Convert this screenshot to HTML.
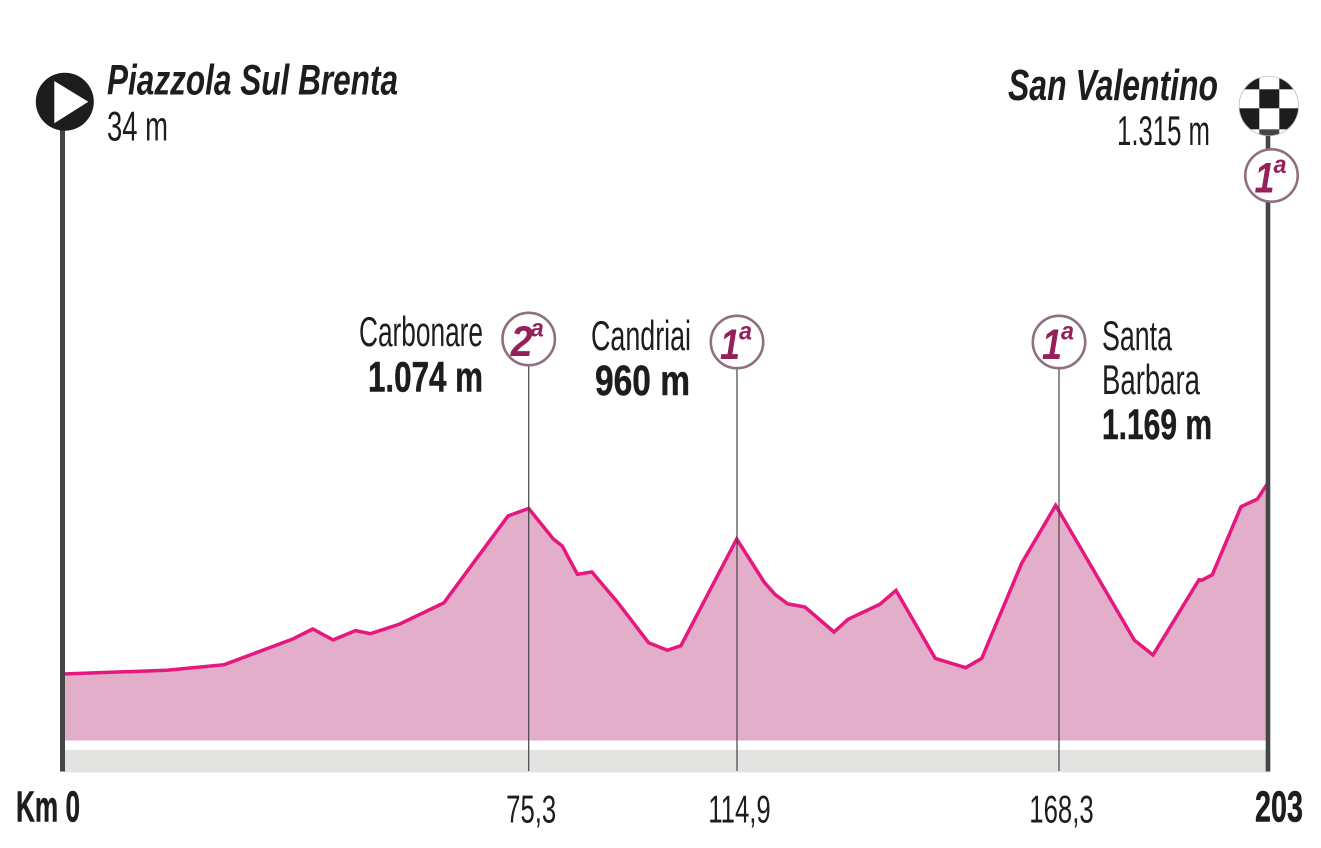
<!DOCTYPE html>
<html lang="it">
<head>
<meta charset="utf-8">
<title>Altimetria Piazzola Sul Brenta - San Valentino</title>
<style>
html,body{margin:0;padding:0;background:#fff;width:1321px;height:848px;overflow:hidden}
svg{display:block}
text{font-family:"Liberation Sans",Arial,sans-serif;fill:#1d1d1b}
.b{font-weight:700;stroke:#1d1d1b;stroke-width:.5}
.bi{font-weight:700;font-style:italic}
.m{fill:#96205a;font-weight:700;font-style:italic}
</style>
</head>
<body>
<svg id="chart" width="1321" height="848" viewBox="0 0 1321 848" xmlns="http://www.w3.org/2000/svg">
  <rect width="1321" height="848" fill="#fff"/>
  <g id="marks"></g>

  <rect x="60" y="120" width="5" height="651.5" fill="#434645"/>
  <rect x="1265.7" y="125" width="4.6" height="646.5" fill="#434645"/>

  <g>
    <circle cx="64.8" cy="101.7" r="29" fill="#1d1d1b"/>
    <path d="M54.3 81 L88.3 101.7 L54.3 123.3 Z" fill="#fff"/>
  </g>
  <g>
    <clipPath id="flagClip"><circle cx="1268.8" cy="106" r="30"/></clipPath>
    <g clip-path="url(#flagClip)">
      <rect x="1238" y="75" width="62" height="62" fill="#fff"/>
      <rect x="1238" y="75" width="21.3" height="14.3" fill="#1d1d1b"/>
      <rect x="1279.3" y="75" width="21" height="14.3" fill="#1d1d1b"/>
      <rect x="1259.3" y="89.3" width="20" height="19" fill="#1d1d1b"/>
      <rect x="1238" y="108.3" width="21.3" height="21" fill="#1d1d1b"/>
      <rect x="1279.3" y="108.3" width="21" height="21" fill="#1d1d1b"/>
      <rect x="1259.3" y="129.3" width="20" height="8" fill="#434645"/>
    </g>
    <circle cx="1268.8" cy="106" r="29.7" fill="none" stroke="#b5b5b3" stroke-width=".7"/>
  </g>

  <text class="bi" x="107" y="94.5" font-size="43" textLength="291" lengthAdjust="spacingAndGlyphs">Piazzola Sul Brenta</text>
  <text x="107" y="140.5" font-size="42" textLength="61" lengthAdjust="spacingAndGlyphs">34 m</text>
  <text class="bi" x="1008" y="100" font-size="44" textLength="210" lengthAdjust="spacingAndGlyphs">San Valentino</text>
  <text x="1117" y="145" font-size="42" textLength="93" lengthAdjust="spacingAndGlyphs">1.315 m</text>

  <text x="359" y="346" font-size="42" textLength="124" lengthAdjust="spacingAndGlyphs">Carbonare</text>
  <text class="b" x="368" y="391.5" font-size="43" textLength="115" lengthAdjust="spacingAndGlyphs">1.074 m</text>
  <text x="591" y="350" font-size="42" textLength="100" lengthAdjust="spacingAndGlyphs">Candriai</text>
  <text class="b" x="595" y="395" font-size="43" textLength="95" lengthAdjust="spacingAndGlyphs">960 m</text>
  <text x="1102" y="350" font-size="42" textLength="70" lengthAdjust="spacingAndGlyphs">Santa</text>
  <text x="1102" y="394" font-size="42" textLength="98" lengthAdjust="spacingAndGlyphs">Barbara</text>
  <text class="b" x="1102" y="439" font-size="43" textLength="110" lengthAdjust="spacingAndGlyphs">1.169 m</text>

  <text class="b" x="16" y="821.5" font-size="44" textLength="64" lengthAdjust="spacingAndGlyphs">Km 0</text>
  <text class="b" x="1255" y="821.5" font-size="44" textLength="48" lengthAdjust="spacingAndGlyphs">203</text>

  <g id="overlays"></g>
</svg>
<script>
// Distance along the stage (km) and altitude (m)
const profileKm = [0,16.79,26.07,37.04,40.37,43.67,47.29,49.72,54.46,61.59,71.95,75.3,79.98,81.69,82.75,84.58,87.29,92.11,98.09,101.64,104.23,114.84,119.43,121.2,123.31,126.18,130.99,133.31,138.62,141.27,147.79,152.83,155.48,162.11,167.75,180.8,183.91,191.54,191.99,193.75,198.52,201.22,203];
const profileAltitude = [34,59,97,269,339,265,328,307,373,517,1105,1157,949,902,829,710,726,524,246,195,226,949,656,574,509,488,319,405,507,601,140,77,140,785,1178,264,163,673,669,707,1168,1220,1330];
// Climbs
const climbKm = [75.3,114.9,168.3];
const climbLabels = ['75,3','114,9','168,3'];
const climbCategories = ['2','1','1'];
const climbNames = ['carbonare','candriai','santa-barbara'];
// Piecewise distance axis: the printed km marks are not evenly spaced on the drawing
const axisKm = [0,75.3,114.9,168.3,203];
const axisPx = [63,528.7,737,1059,1268];

function xScale(km){
  for(let i=1;i<axisKm.length;i++){
    if(km<=axisKm[i]){
      const t=(km-axisKm[i-1])/(axisKm[i]-axisKm[i-1]);
      return axisPx[i-1]+t*(axisPx[i]-axisPx[i-1]);
    }
  }
  return axisPx[axisPx.length-1];
}
function yScale(m){return 674-(m-34)*0.1475;}

const NS='http://www.w3.org/2000/svg';
const marks=document.getElementById('marks');
const overlays=document.getElementById('overlays');
function make(tag,parent,attrs){
  const el=document.createElementNS(NS,tag);
  for(const k in attrs){el.setAttribute(k,attrs[k]);}
  parent.appendChild(el);
  return el;
}

const baseY=740.5;
const linePts=profileKm.map((k,i)=>xScale(k).toFixed(1)+','+yScale(profileAltitude[i]).toFixed(1));
const areaPts=[xScale(0).toFixed(1)+','+baseY].concat(linePts,[xScale(203).toFixed(1)+','+baseY]);

const area=make('polygon',marks,{points:areaPts.join(' '),fill:'#e3aeca'});



const band=make('rect',marks,{x:xScale(0),y:750,width:xScale(203)-xScale(0)+2,height:22.5,fill:'#e3e3e2'});



const line=make('polyline',marks,{points:linePts.join(' '),fill:'none',stroke:'#e6177e','stroke-width':3.5,'stroke-linejoin':'miter'});



climbKm.forEach((km,i)=>{
  const x=xScale(km);
  const cy=i===0?339:342;
  const rule=make('line',marks,{x1:x,x2:x,y1:cy+27,y2:771,stroke:'#444',"stroke-width":1.2});
  
  

  const tick=make('text',overlays,{transform:'translate('+(x+2.5)+',822.5) scale(.66,1)','text-anchor':'middle','font-size':39});
  tick.textContent=climbLabels[i];
  
  

  drawBadge(x,cy,climbCategories[i],climbNames[i]);
});
drawBadge(1271.5,175.5,'1','finish');

function drawBadge(cx,cy,cat,name){
  const g=make('g',overlays,{});
  
  
  make('circle',g,{cx:cx,cy:cy,r:26.2,fill:'#fff',stroke:'#8f6f83','stroke-width':2.6});
  const n=make('text',g,{x:cx-(cat==='2'?18:17),y:cy+17,'font-size':43,class:'m',textLength:cat==='2'?22:20,lengthAdjust:'spacingAndGlyphs'});
  n.textContent=cat;
  const a=make('text',g,{x:cx+2,y:cy-2.5,'font-size':25,class:'m',textLength:13,lengthAdjust:'spacingAndGlyphs'});
  a.textContent='a';
}
</script>
</body>
</html>
